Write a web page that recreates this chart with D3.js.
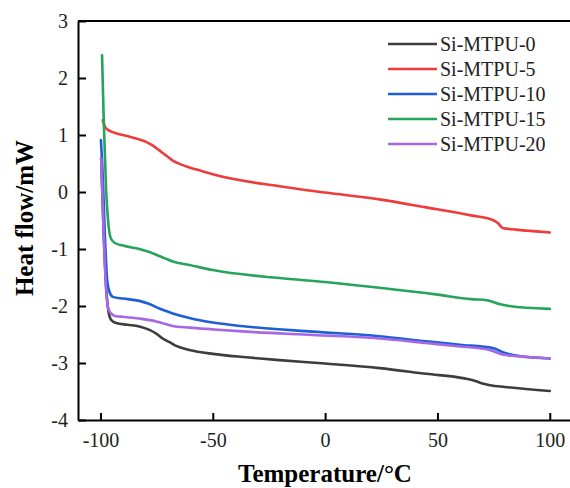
<!DOCTYPE html>
<html>
<head>
<meta charset="utf-8">
<script src="https://cdn.jsdelivr.net/npm/d3@7"></script>
<style>
  body { margin: 0; background: #fff; }
  svg { display: block; font-family: "Liberation Serif", "Times New Roman", serif; }
  .axis path, .axis line { stroke: #000; stroke-width: 2px; }
  .axis text { font-size: 20px; fill: #222; font-family: "Liberation Serif", serif; }
</style>
</head>
<body>
<svg class="chart"></svg>
<script>
// series names + colours for the legend
var names = ["Si-MTPU-0", "Si-MTPU-5", "Si-MTPU-10", "Si-MTPU-15", "Si-MTPU-20"];
var colors = ["#3d3d3d", "#ef3b3b", "#1e5fd8", "#25a45a", "#a668e4"];

var xTicks = [-100, -50, 0, 50, 100];
var yTicks = [-4, -3, -2, -1, 0, 1, 2, 3];

// [temperature °C, heat flow mW]
var si0 = [[-99.7, 0.6], [-98.5, -0.8], [-97.5, -1.65], [-96.5, -2.08], [-95.3, -2.24], [-93, -2.30],
  [-88, -2.33], [-82.7, -2.36], [-78.2, -2.42], [-75, -2.49], [-72.3, -2.57], [-69, -2.64],
  [-66.3, -2.70], [-60.4, -2.77], [-50, -2.84], [-35, -2.90], [-20.3, -2.95], [0, -3.01],
  [24.2, -3.09], [45, -3.19], [62, -3.27], [66.5, -3.31], [70, -3.36], [73.5, -3.39],
  [80, -3.42], [100, -3.49]];
var si5 = [[-99, 1.26], [-98, 1.15], [-97, 1.1], [-93.8, 1.04], [-87, 0.97], [-79.7, 0.88],
  [-76.5, 0.81], [-73.8, 0.73], [-70.5, 0.63], [-67.8, 0.55], [-64, 0.48], [-60.4, 0.43],
  [-55, 0.37], [-50, 0.31], [-20.3, 0.10], [0, -0.01], [24.2, -0.13], [45, -0.27],
  [65, -0.41], [74.6, -0.49], [77, -0.55], [79, -0.63], [85, -0.66], [100, -0.71]];
var si10 = [[-99.8, 0.91], [-99, 0.3], [-98, -0.8], [-97, -1.55], [-96, -1.75], [-94.5, -1.84],
  [-90, -1.87], [-82.7, -1.91], [-78.5, -1.96], [-75.2, -2.02], [-71.5, -2.08], [-67.8, -2.13],
  [-60.4, -2.21], [-50, -2.29], [-35.2, -2.36], [-5.5, -2.45], [24.2, -2.53], [45, -2.62],
  [60, -2.68], [75, -2.74], [79, -2.81], [85, -2.87], [100, -2.92]];
var si15 = [[-99.3, 2.40], [-98.5, 1.2], [-97.5, 0.05], [-96.5, -0.55], [-95.5, -0.8], [-93.8, -0.89],
  [-90, -0.94], [-82.7, -1.0], [-78.5, -1.05], [-75.2, -1.1], [-71.5, -1.16], [-67.8, -1.22],
  [-60.4, -1.28], [-50, -1.37], [-20.3, -1.51], [0, -1.58], [24.2, -1.68], [50, -1.80],
  [65, -1.88], [72, -1.90], [78, -1.97], [82, -2.0], [100, -2.05]];
var si20 = [[-99.7, 0.59], [-98.5, -0.8], [-97.5, -1.7], [-96.5, -2.05], [-95, -2.14], [-93, -2.18],
  [-90, -2.19], [-82.7, -2.22], [-75.2, -2.27], [-71.5, -2.31], [-67.8, -2.35], [-60.4, -2.38],
  [-50, -2.41], [-35.2, -2.45], [-5.5, -2.51], [24.2, -2.57], [45, -2.65], [60, -2.71],
  [73.1, -2.77], [79, -2.85], [85, -2.88], [100, -2.92]];

var seriesList = [si0, si5, si10, si15, si20];
// drawing order: purple sits on blue, green on top
var drawOrder = [0, 1, 2, 4, 3];

var width = 570, height = 488;
var plotL = 78, plotR = 570, plotT = 21, plotB = 420;

var svg = d3.select(".chart").attr("width", width).attr("height", height);

var x = d3.scaleLinear().domain([-110, 109]).range([plotL, plotR]);
var y = d3.scaleLinear().domain([-4, 3]).range([plotB, plotT]);

// plain hyphen minus like the original
var fmt = function(d){ return String(d); };

// frame top line (right edge falls outside the picture)
svg.append("line")
  .attr("x1", plotL).attr("x2", plotR + 5)
  .attr("y1", plotT).attr("y2", plotT)
  .attr("stroke", "#000").attr("stroke-width", 2);

svg.append("g")
  .attr("class", "axis")
  .attr("transform", "translate(0," + plotB + ")")
  .call(d3.axisBottom(x).tickValues(xTicks).tickFormat(fmt)
    .tickSizeInner(-7).tickSizeOuter(0).tickPadding(13));

svg.append("g")
  .attr("class", "axis")
  .attr("transform", "translate(" + plotL + ",0)")
  .call(d3.axisLeft(y).tickValues(yTicks).tickFormat(fmt)
    .tickSizeInner(-8).tickSizeOuter(0).tickPadding(10));

var line = d3.line()
  .x(function(d){ return x(d[0]); })
  .y(function(d){ return y(d[1]); })
  .curve(d3.curveMonotoneX);

drawOrder.forEach(function(i){
  svg.append("path")
    .attr("d", line(seriesList[i]))
    .attr("fill", "none")
    .attr("stroke", colors[i])
    .attr("stroke-width", 2.6)
    .attr("stroke-linejoin", "round")
    .attr("stroke-linecap", "round");
});

// legend
var legend = svg.append("g").attr("transform", "translate(388,44)");
names.forEach(function(n, i){
  var row = legend.append("g").attr("transform", "translate(0," + (i * 25) + ")");
  row.append("line")
    .attr("x1", 0).attr("x2", 49)
    .attr("stroke", colors[i]).attr("stroke-width", 2.6);
  row.append("text")
    .attr("x", 52).attr("y", 7)
    .attr("font-size", 20)
    .attr("fill", "#222")
    .text(n);
});

// axis titles
svg.append("text")
  .attr("x", 325).attr("y", 482)
  .attr("text-anchor", "middle")
  .attr("font-size", 25).attr("font-weight", "bold")
  .text("Temperature/°C");

svg.append("text")
  .attr("transform", "translate(33,218) rotate(-90)")
  .attr("text-anchor", "middle")
  .attr("font-size", 25).attr("font-weight", "bold")
  .text("Heat flow/mW");
</script>
</body>
</html>
